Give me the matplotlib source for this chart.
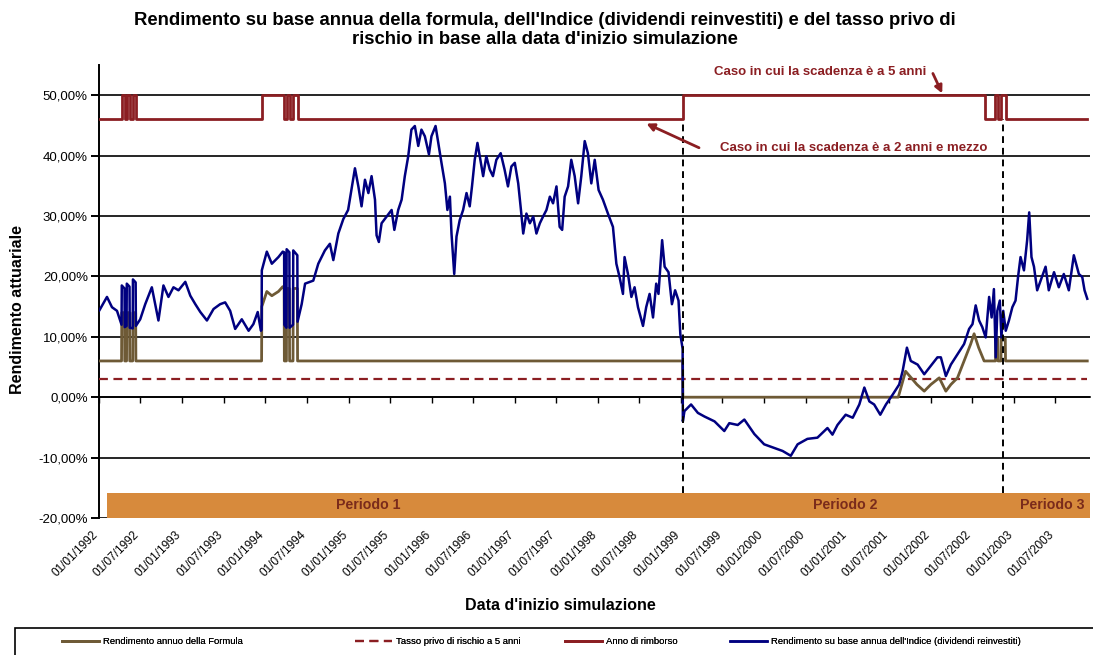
import matplotlib
matplotlib.use("Agg")
import matplotlib.pyplot as plt
import matplotlib.dates as mdates
import matplotlib.transforms as mtransforms
from matplotlib.ticker import FuncFormatter
from matplotlib.patches import Rectangle
import numpy as np
import pandas as pd

plt.rcParams['font.family'] = ['Liberation Sans', 'DejaVu Sans']

# rendimento su base annua dell'indice (dividendi reinvestiti)
index_dates = [
    '1992-01-03', '1992-02-05', '1992-02-27', '1992-03-20', '1992-04-03', '1992-04-09', '1992-04-10',
    '1992-04-22', '1992-04-23', '1992-05-01', '1992-05-02', '1992-05-14', '1992-05-15', '1992-05-28',
    '1992-05-29', '1992-06-10', '1992-06-11', '1992-06-30', '1992-07-22', '1992-08-20', '1992-09-18',
    '1992-10-10', '1992-11-01', '1992-11-23', '1992-12-15', '1993-01-14', '1993-02-05', '1993-02-27',
    '1993-03-21', '1993-04-19', '1993-05-18', '1993-06-16', '1993-07-08', '1993-07-30', '1993-08-21',
    '1993-09-19', '1993-10-19', '1993-11-09', '1993-11-28', '1993-12-12', '1993-12-15', '1993-12-16',
    '1994-01-07', '1994-01-29', '1994-02-27', '1994-03-18', '1994-03-24', '1994-03-25', '1994-04-03',
    '1994-04-04', '1994-04-16', '1994-04-17', '1994-05-02', '1994-05-03', '1994-05-21', '1994-05-22',
    '1994-06-09', '1994-06-24', '1994-07-30', '1994-08-21', '1994-09-19', '1994-10-11', '1994-10-26',
    '1994-11-17', '1994-12-09', '1994-12-30', '1995-01-29', '1995-02-13', '1995-02-27', '1995-03-14',
    '1995-03-29', '1995-04-12', '1995-04-27', '1995-05-04', '1995-05-14', '1995-05-26', '1995-06-17',
    '1995-07-09', '1995-07-21', '1995-08-07', '1995-08-22', '1995-09-05', '1995-09-20', '1995-10-04',
    '1995-10-19', '1995-11-03', '1995-11-17', '1995-12-02', '1995-12-20', '1995-12-31', '1996-01-18',
    '1996-02-01', '1996-02-13', '1996-02-28', '1996-03-10', '1996-03-21', '1996-03-28', '1996-04-09',
    '1996-04-19', '1996-05-03', '1996-05-18', '1996-06-02', '1996-06-16', '1996-06-26', '1996-07-08',
    '1996-07-20', '1996-07-30', '1996-08-14', '1996-08-28', '1996-09-12', '1996-09-26', '1996-10-11',
    '1996-10-30', '1996-11-16', '1996-12-01', '1996-12-16', '1996-12-31', '1997-01-15', '1997-01-27',
    '1997-02-06', '1997-02-20', '1997-03-07', '1997-03-22', '1997-04-05', '1997-04-20', '1997-05-04',
    '1997-05-19', '1997-06-03', '1997-06-17', '1997-07-02', '1997-07-16', '1997-07-27', '1997-08-07',
    '1997-08-22', '1997-09-05', '1997-09-20', '1997-10-05', '1997-10-19', '1997-11-03', '1997-11-17',
    '1997-12-02', '1997-12-17', '1998-01-03', '1998-01-22', '1998-02-13', '1998-03-07', '1998-03-22',
    '1998-04-05', '1998-04-20', '1998-04-27', '1998-05-12', '1998-05-27', '1998-06-10', '1998-06-25',
    '1998-07-17', '1998-07-31', '1998-08-15', '1998-08-30', '1998-09-13', '1998-09-23', '1998-10-09',
    '1998-10-20', '1998-11-06', '1998-11-21', '1998-12-05', '1998-12-20', '1998-12-28', '1999-01-07',
    '1999-01-08', '1999-01-15', '1999-02-13', '1999-03-15', '1999-04-13', '1999-05-27', '1999-07-09',
    '1999-07-31', '1999-09-06', '1999-10-05', '1999-11-18', '1999-12-31', '2000-02-13', '2000-03-21',
    '2000-04-26', '2000-05-26', '2000-07-08', '2000-08-21', '2000-10-04', '2000-10-26', '2000-11-17',
    '2000-12-23', '2001-01-23', '2001-02-21', '2001-03-15', '2001-04-06', '2001-04-27', '2001-05-24',
    '2001-06-18', '2001-07-17', '2001-08-15', '2001-08-30', '2001-09-18', '2001-10-05', '2001-11-04',
    '2001-12-03', '2002-01-01', '2002-01-30', '2002-02-14', '2002-03-08', '2002-03-30', '2002-04-28',
    '2002-05-27', '2002-06-18', '2002-07-03', '2002-07-17', '2002-08-01', '2002-08-15', '2002-08-30',
    '2002-09-14', '2002-09-25', '2002-10-05', '2002-10-13', '2002-10-20', '2002-10-31', '2002-11-07',
    '2002-11-15', '2002-11-26', '2002-12-10', '2002-12-25', '2003-01-08', '2003-01-19', '2003-01-30',
    '2003-02-14', '2003-02-28', '2003-03-09', '2003-03-19', '2003-03-30', '2003-04-13', '2003-04-28',
    '2003-05-20', '2003-06-03', '2003-06-26', '2003-07-17', '2003-08-08', '2003-08-30', '2003-09-21',
    '2003-10-13', '2003-10-28', '2003-11-07', '2003-11-19',
]
index_values = [
    14.4, 16.6, 14.9, 14.3, 12.7, 12.0, 18.5,
    18.0, 11.6, 11.8, 18.8, 18.3, 11.5, 11.4,
    19.5, 19.0, 11.8, 12.9, 15.4, 18.2, 12.7,
    18.5, 16.6, 18.2, 17.7, 19.1, 16.8, 15.4,
    14.1, 12.7, 14.6, 15.4, 15.7, 14.3, 11.3,
    12.9, 11.0, 12.1, 14.1, 11.0, 11.2, 21.0,
    24.1, 22.1, 23.2, 24.1, 24.0, 12.0, 11.5,
    24.5, 24.0, 11.5, 12.0, 24.3, 23.5, 12.5,
    15.4, 18.8, 19.3, 22.1, 24.3, 25.4, 22.7,
    27.1, 29.5, 31.0, 37.9, 34.9, 31.6, 36.0,
    33.8, 36.6, 32.7, 26.8, 25.7, 28.8, 29.9,
    31.0, 27.7, 31.0, 32.7, 36.6, 39.9, 44.3,
    44.9, 41.6, 44.3, 43.2, 40.2, 43.2, 44.9,
    41.6, 38.8, 35.4, 31.0, 33.2, 27.1, 20.4,
    26.6, 29.3, 31.0, 33.8, 31.6, 34.9, 39.3,
    42.1, 39.9, 36.6, 39.9, 37.7, 36.6, 39.3,
    40.4, 37.7, 34.9, 38.2, 38.8, 35.4, 31.0,
    27.1, 30.4, 28.8, 29.9, 27.1, 28.8, 29.9,
    31.0, 33.2, 32.1, 34.9, 28.2, 27.7, 33.2,
    34.9, 39.3, 36.6, 32.1, 36.6, 42.4, 40.4,
    35.4, 39.3, 34.3, 32.7, 30.4, 28.2, 22.1,
    19.9, 17.1, 23.2, 20.4, 16.6, 18.2, 14.9,
    11.8, 14.9, 17.1, 13.2, 18.8, 17.1, 26.0,
    21.6, 20.7, 15.4, 17.7, 16.0, 10.4, 8.0,
    -4.0, -2.3, -1.2, -2.6, -3.2, -4.0, -5.6,
    -4.3, -4.6, -3.7, -6.1, -7.8, -8.4, -8.9,
    -9.7, -7.8, -6.9, -6.7, -5.1, -6.2, -4.6,
    -2.9, -3.4, -1.2, 1.6, -0.7, -1.2, -2.9,
    -1.2, 0.4, 2.1, 4.3, 8.2, 6.0, 5.4,
    3.8, 5.2, 6.6, 6.6, 3.5, 5.4, 7.1,
    8.8, 11.3, 12.1, 15.2, 12.7, 11.6, 9.9,
    16.6, 13.2, 17.9, 6.6, 14.3, 16.0, 9.9,
    14.3, 11.0, 12.7, 14.9, 16.0, 19.9, 23.2,
    21.0, 26.0, 30.6, 23.2, 21.6, 17.7, 19.3,
    21.6, 17.7, 20.7, 18.2, 20.4, 17.7, 23.5,
    20.4, 19.9, 17.7, 16.3,
]

# rendimento annuo della formula
formula_dates = [
    '1992-01-03', '1992-04-09', '1992-04-10', '1992-04-22', '1992-04-23', '1992-05-01', '1992-05-02',
    '1992-05-14', '1992-05-15', '1992-05-28', '1992-05-29', '1992-06-10', '1992-06-11', '1993-12-15',
    '1993-12-16', '1994-01-07', '1994-01-29', '1994-02-27', '1994-03-18', '1994-03-24', '1994-03-25',
    '1994-04-03', '1994-04-04', '1994-04-16', '1994-04-17', '1994-05-02', '1994-05-03', '1994-05-21',
    '1994-05-22', '1999-01-07', '1999-01-08', '2001-08-11', '2001-09-12', '2001-11-01', '2001-12-03',
    '2002-01-01', '2002-02-07', '2002-03-08', '2002-03-30', '2002-04-28', '2002-05-27', '2002-06-25',
    '2002-07-10', '2002-07-30', '2002-08-23', '2002-10-12', '2002-10-13', '2002-10-22', '2002-10-23',
    '2002-11-05', '2002-11-06', '2002-11-24', '2002-11-25', '2003-11-19',
]
formula_values = [
    6.0, 6.0, 14.0, 14.0, 6.0, 6.0, 14.0,
    14.0, 6.0, 6.0, 14.0, 14.0, 6.0, 6.0,
    15.0, 17.5, 16.8, 17.5, 18.3, 18.2, 6.0,
    6.0, 18.0, 18.0, 6.0, 6.0, 18.0, 18.0,
    6.0, 6.0, 0.0, 0.0, 4.3, 2.1, 1.0,
    2.1, 3.2, 1.0, 2.1, 3.2, 6.0, 8.8,
    10.5, 8.2, 6.0, 6.0, 9.7, 9.7, 6.0,
    6.0, 9.7, 9.7, 6.0, 6.0,
]

# anno di rimborso (2,5 o 5 anni), a gradini
rimborso_dates = [
    '1992-01-03', '1992-04-10', '1992-04-23', '1992-05-02', '1992-05-15', '1992-05-29', '1992-06-11',
    '1993-12-16', '1994-03-25', '1994-04-04', '1994-04-17', '1994-05-03', '1994-05-22', '1999-01-08',
    '2002-08-27', '2002-10-10', '2002-10-23', '2002-11-06', '2002-11-25', '2003-11-19',
]
rimborso_years = [
    2.5, 5, 2.5, 5, 2.5, 5, 2.5,
    5, 2.5, 5, 2.5, 5, 2.5, 5,
    2.5, 5, 2.5, 5, 2.5, 2.5,
]

risk_free_5y = 3.0

period_names = ['Periodo 1', 'Periodo 2', 'Periodo 3']
period_starts = ['1992-02-07', '1999-01-08', '2002-11-15']
period_ends = ['1999-01-08', '2002-11-15', '2003-12-01']
period_label_dates = ['1995-03-27', '2000-12-20', '2003-06-20']
split_dates = ['1999-01-08', '2002-11-15']

c_index = '#000080'
c_formula = '#6E5A36'
c_red = '#8B1E22'
c_band = '#D78A3C'
c_band_text = '#7A2B1B'

fig = plt.figure(figsize=(10.93, 6.55), dpi=100)
ax = fig.add_axes([99 / 1093, 1 - 518 / 655, 991 / 1093, 453 / 655])

idx_d = pd.to_datetime(index_dates)
frm_d = pd.to_datetime(formula_dates)
rim_d = pd.to_datetime(rimborso_dates)

h_rf, = ax.plot([idx_d[0], idx_d[-1]], [risk_free_5y, risk_free_5y], color=c_red, lw=1.6,
                ls=(0, (4, 2.5)), zorder=3, label='Tasso privo di rischio a 5 anni')
h_frm, = ax.plot(frm_d, formula_values, color=c_formula, lw=2.0, zorder=4,
                 label='Rendimento annuo della Formula')
h_idx, = ax.plot(idx_d, index_values, color=c_index, lw=1.8, zorder=5,
                 label="Rendimento su base annua dell'Indice (dividendi reinvestiti)")

# bande dei periodi
band_lo, band_hi = -20, -15.8
for name, s, e, lab in zip(period_names, period_starts, period_ends, period_label_dates):
    ax.fill_between(pd.to_datetime([s, e]), band_lo, band_hi, color=c_band, lw=0, zorder=2)
    ax.text(pd.Timestamp(lab), (band_lo + band_hi) / 2, name, ha='center', va='center',
            fontsize=10.2, fontweight='bold', color=c_band_text, zorder=6)

ax.vlines(pd.to_datetime(split_dates), band_hi, 46, colors='black', lw=1.4,
          linestyles=(0, (3.5, 2.5)), zorder=6)

ax.set_ylim(-20, 55)
ax.set_xlim(pd.Timestamp('1992-01-01'), pd.Timestamp('2003-12-01'))
ax.set_yticks(np.arange(-20, 51, 10))
ax.yaxis.set_major_formatter(FuncFormatter(lambda v, p: ('%.2f%%' % v).replace('.', ',')))
ax.set_axisbelow(True)
ax.yaxis.grid(True, color='black', lw=1.2)
for s in ['top', 'right']:
    ax.spines[s].set_visible(False)
ax.spines['left'].set_linewidth(1.4)
ax.spines['bottom'].set_position(('data', 0))
ax.spines['bottom'].set_linewidth(1.2)
ax.tick_params(axis='y', labelsize=9.5, length=6, width=1.4, colors='black', pad=2)
ax.xaxis.set_major_locator(mdates.MonthLocator(bymonth=[1, 7], bymonthday=1))
ax.xaxis.set_major_formatter(mdates.DateFormatter('%d/%m/%Y'))
ax.tick_params(axis='x', labelsize=8.5, length=4, width=1, pad=91)
shift = mtransforms.ScaledTranslation(-7 / 100, 0, fig.dpi_scale_trans)
for lbl in ax.get_xticklabels():
    lbl.set_rotation(45)
    lbl.set_ha('right')
    lbl.set_rotation_mode('anchor')
    lbl.set_transform(lbl.get_transform() + shift)

# anno di rimborso su asse nascosto: 2,5 anni -> 46%, 5 anni -> 50%
ax2 = ax.twinx()
ax2.set_ylim(2.5 + (-20 - 46) * 0.625, 2.5 + (55 - 46) * 0.625)
ax2.axis('off')
h_rim, = ax2.step(rim_d, rimborso_years, where='post', color=c_red, lw=2.0, zorder=5,
                  label='Anno di rimborso')

# annotazioni
ax2.text(pd.Timestamp('2000-09-03'), 2.5 + (53.8 - 46) * 0.625, 'Caso in cui la scadenza è a 5 anni',
         ha='center', va='center', fontsize=9.5, fontweight='bold', color=c_red)
ax2.annotate('', xy=(pd.Timestamp('2002-02-20'), 2.5 + (50.3 - 46) * 0.625),
             xytext=(pd.Timestamp('2002-01-10'), 2.5 + (53.6 - 46) * 0.625),
             arrowprops=dict(arrowstyle='-|>', color=c_red, lw=2, mutation_scale=11,
                             shrinkA=0, shrinkB=0))
ax2.text(pd.Timestamp('2001-01-28'), 2.5 + (41.3 - 46) * 0.625,
         'Caso in cui la scadenza è a 2 anni e mezzo',
         ha='center', va='center', fontsize=9.5, fontweight='bold', color=c_red)
ax2.annotate('', xy=(pd.Timestamp('1998-08-01'), 2.5 + (45.3 - 46) * 0.625),
             xytext=(pd.Timestamp('1999-03-20'), 2.5 + (41.3 - 46) * 0.625),
             arrowprops=dict(arrowstyle='-|>', color=c_red, lw=2, mutation_scale=11,
                             shrinkA=0, shrinkB=0))

fig.text(545 / 1093, 1 - 30 / 655,
         "Rendimento su base annua della formula, dell'Indice (dividendi reinvestiti) e del tasso privo di\n"
         "rischio in base alla data d'inizio simulazione",
         ha='center', va='center', fontsize=13.3, fontweight='bold', linespacing=1.1)
fig.text(18 / 1093, 1 - 310 / 655, 'Rendimento attuariale', rotation=90, ha='center', va='center',
         fontsize=11.5, fontweight='bold')
fig.text(560 / 1093, 1 - 605 / 655, "Data d'inizio simulazione", ha='center', va='center',
         fontsize=11.5, fontweight='bold')

# legenda in basso
fig.patches.append(Rectangle((15 / 1093, -0.05), 1.1, 0.05 + 27 / 655, transform=fig.transFigure,
                             fill=False, edgecolor='black', lw=1.2))
legend_x = [62, 355, 565, 730]
for h, lx in zip([h_frm, h_rf, h_rim, h_idx], legend_x):
    leg = fig.legend(handles=[h], loc='center left', bbox_to_anchor=(lx / 1093, 1 - 642 / 655),
                     frameon=False, fontsize=6.8, handlelength=3.9, handletextpad=0.4, borderpad=0,
                     borderaxespad=0)
    fig.add_artist(leg)

fig.savefig('out.png', dpi=100)
